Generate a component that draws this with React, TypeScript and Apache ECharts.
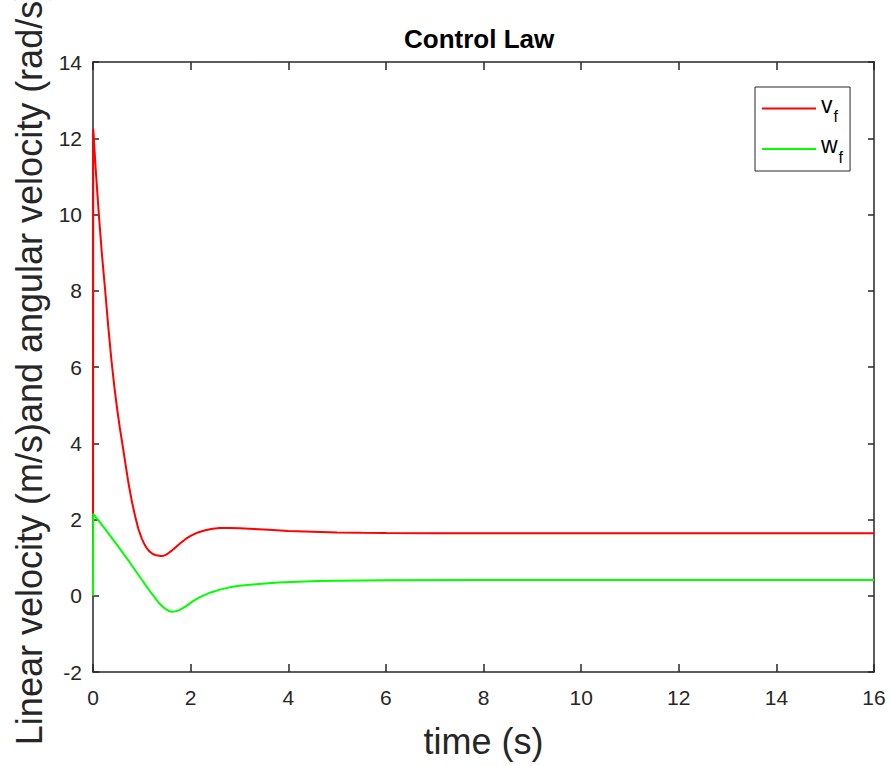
import React, { useEffect, useRef } from "react";
import * as echarts from "echarts";

const titleText = "Control Law";
const xAxisName = "time (s)";
const yAxisName = "Linear velocity (m/s)and angular velocity (rad/s)";
const seriesNames = ["v_f", "w_f"];

const vfData: [number, number][] = [
  [0, 0], [0.005, 12.25], [0.06, 11.1], [0.12, 10.0], [0.18, 9.0], [0.25, 8.0],
  [0.31, 7.1], [0.38, 6.15], [0.44, 5.45], [0.5, 4.85], [0.55, 4.4], [0.6, 4.0],
  [0.67, 3.42], [0.73, 2.93], [0.8, 2.45], [0.87, 2.05], [0.93, 1.75], [1.0, 1.5],
  [1.05, 1.36], [1.1, 1.25], [1.15, 1.17], [1.2, 1.12], [1.25, 1.08], [1.3, 1.06],
  [1.39, 1.04], [1.45, 1.05], [1.5, 1.08], [1.55, 1.12], [1.6, 1.17], [1.7, 1.28],
  [1.8, 1.39], [1.9, 1.49], [2.0, 1.57], [2.15, 1.66], [2.3, 1.72], [2.45, 1.76],
  [2.6, 1.78], [2.8, 1.78], [3.0, 1.77], [3.3, 1.75], [3.6, 1.73], [4.0, 1.7],
  [4.5, 1.68], [5.0, 1.66], [5.5, 1.65], [6.0, 1.645], [7, 1.64], [8, 1.64],
  [10, 1.64], [12, 1.64], [14, 1.64], [16, 1.64],
];

const wfData: [number, number][] = [
  [0, 0], [0.005, 2.15], [0.25, 1.75], [0.5, 1.32], [0.75, 0.88], [1.0, 0.42],
  [1.1, 0.24], [1.2, 0.06], [1.28, -0.07], [1.35, -0.19], [1.43, -0.29], [1.5, -0.36],
  [1.56, -0.4], [1.62, -0.42], [1.68, -0.41], [1.75, -0.39], [1.82, -0.34],
  [1.9, -0.28], [2.05, -0.14], [2.2, -0.03], [2.4, 0.08], [2.6, 0.16],
  [2.8, 0.22], [3.0, 0.26], [3.4, 0.31], [3.8, 0.345], [4.2, 0.37],
  [4.6, 0.385], [5.0, 0.395], [6.0, 0.405], [8, 0.41], [16, 0.41],
];

const xMin = 0, xMax = 16, xStep = 2;
const yMin = -2, yMax = 14, yStep = 2;

const FONT = "'Liberation Sans', Arial, Helvetica, sans-serif";
const AX = "#262626";

export default function App() {
  const ref = useRef<HTMLDivElement>(null);
  useEffect(() => {
    if (!ref.current) return;
    const chart = echarts.init(ref.current, undefined, { renderer: "svg" });
    const mainX = {
      type: "value", min: xMin, max: xMax, interval: xStep,
      position: "bottom",
      name: xAxisName, nameLocation: "middle", nameGap: 51,
      nameTextStyle: { fontFamily: FONT, fontSize: 36, color: AX },
      axisLine: { show: true, onZero: false, lineStyle: { color: AX, width: 1.5 } },
      axisTick: { show: true, inside: true, length: 8, lineStyle: { color: AX, width: 1.5 } },
      axisLabel: { fontFamily: FONT, fontSize: 21, color: AX, margin: 15 },
      splitLine: { show: false },
    };
    const topX = {
      type: "value", min: xMin, max: xMax, interval: xStep, position: "top",
      axisLine: { show: true, onZero: false, lineStyle: { color: AX, width: 1.5 } },
      axisTick: { show: true, inside: true, length: 8, lineStyle: { color: AX, width: 1.5 } },
      axisLabel: { show: false }, splitLine: { show: false },
    };
    const mainY = {
      type: "value", min: yMin, max: yMax, interval: yStep, position: "left",
      name: yAxisName, nameLocation: "middle", nameGap: 44, nameRotate: 90,
      nameTextStyle: { fontFamily: FONT, fontSize: 36, color: AX },
      axisLine: { show: true, onZero: false, lineStyle: { color: AX, width: 1.5 } },
      axisTick: { show: true, inside: true, length: 6, lineStyle: { color: AX, width: 1.5 } },
      axisLabel: { fontFamily: FONT, fontSize: 21, color: AX, margin: 11 },
      splitLine: { show: false },
    };
    const rightY = {
      type: "value", min: yMin, max: yMax, interval: yStep, position: "right",
      axisLine: { show: true, onZero: false, lineStyle: { color: AX, width: 1.5 } },
      axisTick: { show: true, inside: true, length: 6, lineStyle: { color: AX, width: 1.5 } },
      axisLabel: { show: false }, splitLine: { show: false },
    };
    chart.setOption({
      animation: false,
      backgroundColor: "#ffffff",
      title: {
        text: titleText, left: 404, top: 26, padding: 0,
        textStyle: { fontFamily: FONT, fontSize: 26, fontWeight: "bold", color: "#000" },
      },
      grid: {
        left: 93, right: 17, top: 62, bottom: 94,
        containLabel: false, outerBoundsMode: "none",
      },
      legend: {
        orient: "vertical", left: 755, top: 87,
        padding: [6, 7, 6, 7], itemGap: 9,
        itemWidth: 54, itemHeight: 2, icon: "rect",
        borderColor: AX, borderWidth: 1, backgroundColor: "#fff",
        data: seriesNames,
        formatter: (name: string) => {
          const parts = name.split("_");
          return `{m|${parts[0]}}{s|${parts[1]}}`;
        },
        textStyle: {
          fontFamily: FONT, color: "#000",
          rich: {
            m: { fontFamily: FONT, fontSize: 23, lineHeight: 22, verticalAlign: "top", color: "#000" },
            s: { fontFamily: FONT, fontSize: 16, height: 15, verticalAlign: "bottom", padding: [16, 0, 0, 1], color: "#000" },
          },
        },
      },
      xAxis: [mainX, topX],
      yAxis: [mainY, rightY],
      series: [
        {
          name: seriesNames[0], type: "line", data: vfData, showSymbol: false,
          xAxisIndex: 0, yAxisIndex: 0,
          lineStyle: { color: "#ff0000", width: 2 }, itemStyle: { color: "#ff0000" },
        },
        {
          name: seriesNames[1], type: "line", data: wfData, showSymbol: false,
          xAxisIndex: 0, yAxisIndex: 0,
          lineStyle: { color: "#00ff00", width: 2 }, itemStyle: { color: "#00ff00" },
        },
      ],
    });
    return () => chart.dispose();
  }, []);
  return <div ref={ref} style={{ width: 891, height: 766, position: "absolute", left: 0, top: 0 }} />;
}
